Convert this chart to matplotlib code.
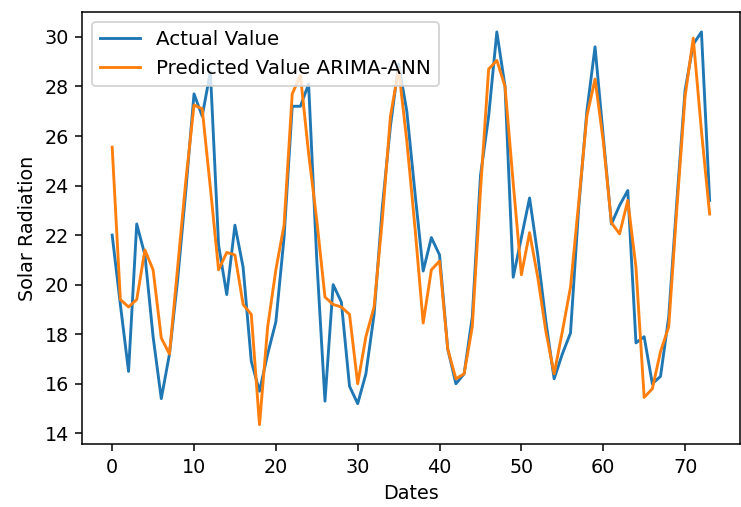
import matplotlib

matplotlib.use("Agg")
import matplotlib.pyplot as plt
import numpy as np

actual = [
    22.0, 19.2, 16.5, 22.45, 21.2, 17.9, 15.4, 17.2, 20.2, 23.8,
    27.7, 26.8, 28.6, 21.6, 19.6, 22.4, 20.7, 16.9, 15.7, 17.2,
    18.5, 21.9, 27.2, 27.2, 28.1, 21.0, 15.3, 20.0, 19.3, 15.9,
    15.2, 16.4, 18.8, 23.1, 26.4, 28.9, 27.0, 23.7, 20.55, 21.9,
    21.2, 17.4, 16.0, 16.4, 18.7, 24.4, 26.8, 30.2, 28.0, 20.3,
    21.9, 23.5, 21.2, 18.5, 16.2, 17.2, 18.05, 23.1, 27.0, 29.6,
    26.0, 22.45, 23.2, 23.8, 17.65, 17.9, 16.0, 16.3, 18.7, 23.4,
    27.85, 29.7, 30.2, 23.4,
]
predicted = [
    25.55, 19.4, 19.1, 19.4, 21.4, 20.6, 17.85, 17.2, 20.7, 24.2,
    27.25, 27.1, 23.9, 20.6, 21.3, 21.2, 19.2, 18.8, 14.35, 18.3,
    20.6, 22.4, 27.7, 28.45, 25.3, 22.6, 19.5, 19.2, 19.1, 18.8,
    16.0, 17.9, 19.1, 22.6, 26.8, 28.7, 25.8, 22.3, 18.45, 20.6,
    20.95, 17.4, 16.2, 16.4, 18.3, 23.8, 28.7, 29.05, 28.0, 24.1,
    20.4, 22.1, 20.3, 18.1, 16.4, 18.1, 19.9, 23.3, 26.8, 28.3,
    25.8, 22.5, 22.05, 23.4, 20.7, 15.45, 15.8, 17.3, 18.3, 23.1,
    27.6, 29.95, 26.2, 22.85,
]
dates = np.arange(len(actual))

DPI = 138
fig = plt.figure(figsize=(741 / DPI, 507 / DPI), dpi=DPI)
ax = fig.add_axes([82.3 / 741, 1 - 444.3 / 507, (739.5 - 82.3) / 741, (444.3 - 12.3) / 507])
ax.plot(dates, actual, label="Actual Value")
ax.plot(dates, predicted, label="Predicted Value ARIMA-ANN")
ax.set_xlabel("Dates")
ax.set_ylabel("Solar Radiation")
ax.legend(loc="upper left", fontsize=10.4)
fig.savefig("out.png", dpi=DPI)
